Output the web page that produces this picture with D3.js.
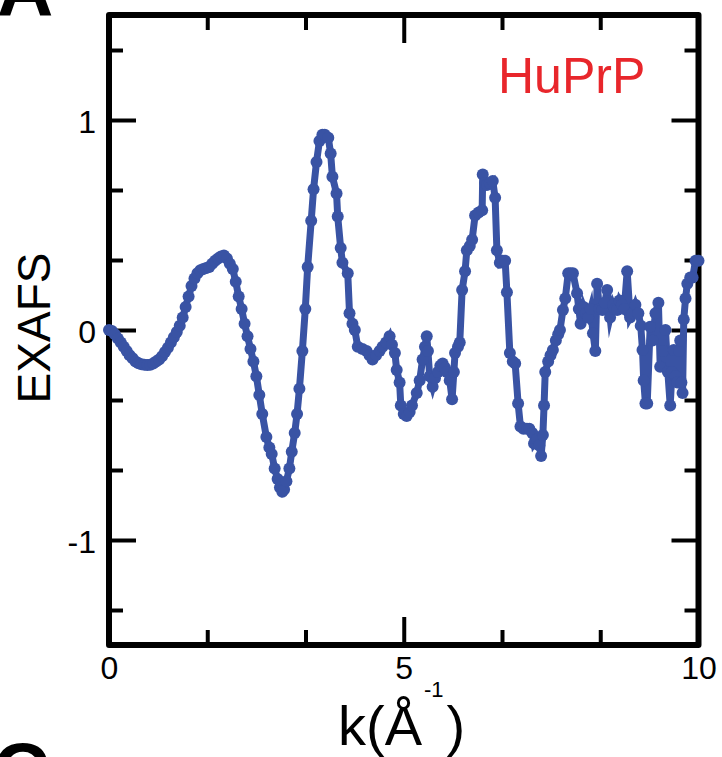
<!DOCTYPE html>
<html>
<head>
<meta charset="utf-8">
<script src="https://cdn.jsdelivr.net/npm/d3@7"></script>
<style>
  html, body { margin: 0; padding: 0; background: #fff; }
  svg { display: block; }
  text { font-family: "Liberation Sans", Arial, Helvetica, sans-serif; }
</style>
</head>
<body>
<div id="chart"></div>
<script>
// ---- data ----
const kValues = [
  0.00,0.05,0.10,0.15,0.20,0.25,0.30,0.35,0.40,0.45,0.50,0.55,0.60,0.65,0.70,0.75,0.80,0.85,0.90,0.95,
  1.00,1.05,1.10,1.15,1.20,1.25,1.30,1.35,1.40,1.45,1.50,1.55,1.60,1.65,1.70,1.75,1.80,1.85,1.90,1.95,
  2.00,2.05,2.10,2.15,2.20,2.25,2.30,2.35,2.40,2.45,2.50,2.55,2.60,
  2.67,2.72,2.76,2.81,2.86,2.90,2.94,2.97,3.01,3.06,3.10,3.15,3.19,3.23,3.28,3.33,3.37,3.43,3.47,3.52,
  3.57,3.62,3.66,3.72,3.76,3.79,3.86,3.88,3.93,3.96,4.05,4.08,4.13,4.17,4.22,4.30,4.37,4.42,4.47,4.53,
  4.59,4.64,4.70,4.76,4.80,4.85,4.88,4.93,4.95,5.00,5.05,5.10,5.14,5.22,5.27,5.32,5.36,5.39,5.41,5.44,
  5.49,5.53,5.58,5.62,5.66,5.70,5.73,5.78,5.82,5.85,5.87,5.92,5.95,5.99,6.04,6.07,6.12,6.16,6.21,6.27,
  6.33,6.34,6.38,6.41,6.46,6.51,6.55,6.58,6.63,6.67,6.72,6.75,6.80,6.85,6.89,6.94,6.98,7.03,7.09,7.13,
  7.18,7.21,7.26,7.30,7.33,7.36,7.38,7.40,7.45,7.49,7.53,7.58,7.62,7.65,7.70,7.74,7.79,7.83,7.87,7.94,
  7.97,8.00,8.05,8.09,8.13,8.17,8.21,8.25,8.28,8.32,8.37,8.41,8.45,8.50,8.55,8.58,8.62,8.66,8.70,8.74,
  8.79,8.84,8.88,8.93,8.98,9.02,9.05,9.07,9.10,9.13,9.18,9.22,9.27,9.32,9.35,9.40,9.44,9.48,9.52,9.55,
  9.58,9.61,9.64,9.67,9.69,9.71,9.73,9.75,9.78,9.81,9.86,9.90,9.95,10.0
];
const chiValues = [
  0.00,-0.005,-0.02,-0.04,-0.06,-0.08,-0.10,-0.12,-0.135,-0.15,-0.158,-0.163,-0.166,-0.167,-0.165,-0.16,-0.15,-0.14,-0.125,-0.105,
  -0.085,-0.06,-0.035,-0.01,0.02,0.06,0.11,0.16,0.21,0.245,0.27,0.285,0.29,0.295,0.30,0.315,0.33,0.34,0.35,0.355,
  0.34,0.315,0.29,0.23,0.16,0.10,0.03,-0.03,-0.09,-0.15,-0.22,-0.31,-0.40,
  -0.51,-0.56,-0.59,-0.66,-0.71,-0.75,-0.77,-0.76,-0.72,-0.66,-0.58,-0.49,-0.40,-0.28,-0.10,0.10,0.30,0.52,0.67,0.80,
  0.90,0.93,0.93,0.915,0.84,0.73,0.65,0.54,0.39,0.32,0.27,0.08,0.03,0.00,-0.08,-0.09,-0.10,-0.12,-0.14,-0.12,
  -0.10,-0.08,-0.06,-0.03,-0.07,-0.11,-0.19,-0.25,-0.36,-0.40,-0.41,-0.39,-0.36,-0.30,-0.24,-0.14,-0.08,-0.03,-0.10,-0.22,
  -0.27,-0.23,-0.20,-0.17,-0.16,-0.18,-0.20,-0.24,-0.33,-0.20,-0.11,-0.08,-0.06,0.19,0.28,0.38,0.40,0.43,0.545,0.56,
  0.57,0.74,0.70,0.69,0.70,0.71,0.63,0.38,0.32,0.33,0.33,0.18,-0.11,-0.15,-0.16,-0.35,-0.46,-0.47,-0.47,-0.47,
  -0.49,-0.54,-0.52,-0.55,-0.60,-0.50,-0.36,-0.20,-0.15,-0.12,-0.095,-0.05,-0.02,0.00,0.095,0.15,0.27,0.27,0.27,0.175,
  0.10,0.03,0.11,0.08,0.06,0.10,-0.015,-0.10,0.22,0.10,0.095,0.13,0.19,0.06,0.12,0.10,0.095,0.14,0.12,0.10,
  0.28,0.06,0.08,0.12,0.08,0.02,-0.095,-0.24,-0.35,-0.35,0.015,-0.05,0.08,0.13,-0.175,-0.10,0.00,-0.20,-0.36,-0.20,
  -0.095,-0.22,-0.25,-0.10,-0.05,-0.25,-0.30,0.05,0.15,0.22,0.25,0.25,0.33,0.33
];
const xMajorTicks = [0, 5, 10];
const xMinorTicks = [5/3, 10/3, 20/3, 25/3];
const yMajorTicks = [-1, 0, 1];
const yMinorTicks = [-4/3, -2/3, -1/3, 1/3, 2/3, 4/3];
const xDomain = [0, 10];
const yDomain = [-1.5, 1.5];
const seriesLabel = "HuPrP";

// ---- layout ----
const W = 722, H = 757;
const pL = 109, pR = 698.5, pT = 15, pB = 645;
const lineColor = "#3953a4";

const svg = d3.select("#chart").append("svg").attr("width", W).attr("height", H);

const x = d3.scaleLinear().domain(xDomain).range([pL, pR]);
const y = d3.scaleLinear().domain(yDomain).range([pB, pT]);

const fmt = d => String(d);

function styleAxis(g) {
  g.select(".domain").remove();
  g.selectAll(".tick line").attr("stroke", "#000").attr("stroke-width", 4);
  g.selectAll(".tick text").attr("fill", "#000").attr("font-size", 32)
    .attr("font-family", '"Liberation Sans", Arial, sans-serif');
}

// bottom
svg.append("g").attr("transform", `translate(0,${pB})`)
  .call(d3.axisBottom(x).tickValues(xMajorTicks).tickFormat(fmt).tickSizeInner(-28).tickSizeOuter(0).tickPadding(11))
  .call(styleAxis);
svg.append("g").attr("transform", `translate(0,${pB})`)
  .call(d3.axisBottom(x).tickValues(xMinorTicks).tickFormat("").tickSizeInner(-15).tickSizeOuter(0))
  .call(styleAxis);
// top
svg.append("g").attr("transform", `translate(0,${pT})`)
  .call(d3.axisTop(x).tickValues(xMajorTicks).tickFormat("").tickSizeInner(-28).tickSizeOuter(0))
  .call(styleAxis);
svg.append("g").attr("transform", `translate(0,${pT})`)
  .call(d3.axisTop(x).tickValues(xMinorTicks).tickFormat("").tickSizeInner(-15).tickSizeOuter(0))
  .call(styleAxis);
// left
const gl = svg.append("g").attr("transform", `translate(${pL},0)`)
  .call(d3.axisLeft(y).tickValues(yMajorTicks).tickFormat(fmt).tickSizeInner(-27).tickSizeOuter(0).tickPadding(13))
  .call(styleAxis);
gl.selectAll(".tick text").attr("dy", "0.4em");
svg.append("g").attr("transform", `translate(${pL},0)`)
  .call(d3.axisLeft(y).tickValues(yMinorTicks).tickFormat("").tickSizeInner(-14).tickSizeOuter(0))
  .call(styleAxis);
// right
svg.append("g").attr("transform", `translate(${pR},0)`)
  .call(d3.axisRight(y).tickValues(yMajorTicks).tickFormat("").tickSizeInner(-27).tickSizeOuter(0))
  .call(styleAxis);
svg.append("g").attr("transform", `translate(${pR},0)`)
  .call(d3.axisRight(y).tickValues(yMinorTicks).tickFormat("").tickSizeInner(-14).tickSizeOuter(0))
  .call(styleAxis);

// frame
svg.append("rect")
  .attr("x", pL).attr("y", pT)
  .attr("width", pR - pL).attr("height", pB - pT)
  .attr("fill", "none").attr("stroke", "#000").attr("stroke-width", 6)
  .attr("stroke-linejoin", "round");

// data
const data = kValues.map((k, i) => ({ k, v: chiValues[i] }));
const line = d3.line().x(d => x(d.k)).y(d => y(d.v));
svg.append("path").datum(data)
  .attr("d", line)
  .attr("fill", "none")
  .attr("stroke", lineColor)
  .attr("stroke-width", 7)
  .attr("stroke-linejoin", "miter")
  .attr("stroke-miterlimit", 6);
svg.append("g").selectAll("circle").data(data).join("circle")
  .attr("cx", d => x(d.k)).attr("cy", d => y(d.v)).attr("r", 6)
  .attr("fill", lineColor);

// series label
svg.append("text").attr("x", 498).attr("y", 93)
  .attr("font-size", 50).attr("fill", "#e8262b").text(seriesLabel);

// axis titles
svg.append("text")
  .attr("transform", `translate(50,328) rotate(-90)`)
  .attr("text-anchor", "middle").attr("font-size", 46).attr("fill", "#000")
  .text("EXAFS");

const xt = svg.append("text").attr("x", 338).attr("y", 745).attr("font-size", 56).attr("fill", "#000");
xt.append("tspan").text("k(Å");
xt.append("tspan").attr("font-size", 22).attr("dy", -48).attr("dx", 2).text("-1");
xt.append("tspan").attr("font-size", 56).attr("dy", 48).attr("dx", 3).text(")");

// panel letters (cropped at the edges, as in the reference)
svg.append("text").attr("x", -3).attr("y", 16).attr("font-size", 78).attr("font-weight", "bold")
  .attr("fill", "#000").text("A");
svg.append("text").attr("x", -7).attr("y", 797).attr("font-size", 78).attr("font-weight", "bold")
  .attr("fill", "#000").text("C");
</script>
</body>
</html>
